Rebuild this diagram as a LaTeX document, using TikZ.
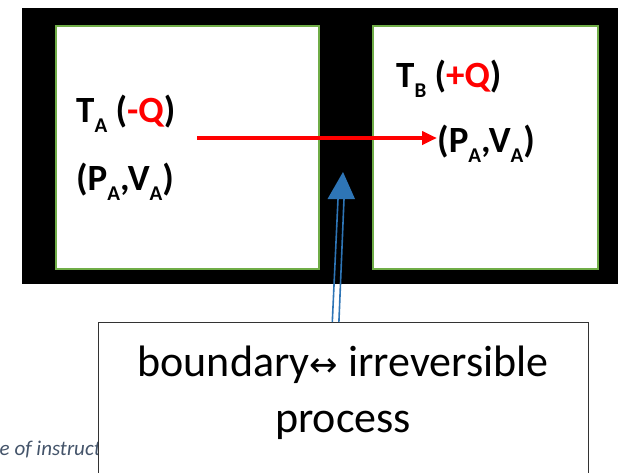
\documentclass[tikz,border=0pt]{standalone}
\usepackage{fontspec}
\setmainfont{Carlito}
\newfontfamily\symfont{DejaVu Sans}
\usetikzlibrary{calc,arrows.meta,positioning}
\definecolor{boxgreen}{HTML}{70AD47}
\definecolor{arrowblue}{HTML}{2E75B6}
\definecolor{notegray}{HTML}{44546A}
\newcommand{\lowsub}[1]{\raisebox{-0.28em}{\fontsize{21}{22}\selectfont #1}}
\begin{document}
\begin{tikzpicture}[x=1pt,y=-1pt,
  chamber/.style={draw=boxgreen,fill=white,line width=1.6pt,anchor=north west,inner sep=0pt},
  state/.style={font=\bfseries\fontsize{37}{42}\selectfont,inner sep=0pt,anchor=base west},
  heatflow/.style={red,line width=4.5pt,-{Triangle[length=15pt,width=13pt]}},
  pointer/.style={arrowblue,line width=1.6pt}]
\useasboundingbox (0,0) rectangle (618,472);
% the two chambers in the black frame
\fill[black] (22,8) rectangle (618,284);
\node[chamber,minimum width=263pt,minimum height=243pt] (left) at (55,25) {};
\node[chamber,minimum width=225pt,minimum height=243pt] (right) at (372,25) {};
\node[state] (ta) at (76,122) {T\lowsub{A} (\textcolor{red}{-Q})};
\node[state] (pa) at (76,190) {(P\lowsub{A},V\lowsub{A})};
\node[state] (tb) at (396,87) {T\lowsub{B} (\textcolor{red}{+Q})};
\node[state] (pb) at (437,152) {(P\lowsub{A},V\lowsub{A})};
\coordinate (qstart) at (197,138);
\draw[heatflow] (qstart) -- (qstart -| pb.west);
% note behind the box
\node[font=\itshape\fontsize{21}{24}\selectfont,text=notegray,anchor=base east,inner sep=0pt] (note) at (101,455) {e of instruct};
\node[draw=black!80,fill=white,line width=1.2pt,minimum width=490pt,minimum height=170pt,anchor=north west,inner sep=0pt] (procbox) at (98,322) {};
\node[font=\fontsize{44}{56}\selectfont,align=center,anchor=north,inner sep=0pt] (proctext) at (343,346) {boundary{\symfont\fontsize{34}{40}\selectfont ↔} irreversible\\process};
% pointer to the wall
\coordinate (ptrfoot) at ($(procbox.north)+(-8,0)$);
\coordinate (ptrhead) at (341,199);
\draw[pointer] ($(ptrfoot)+(-3.3,0)$) -- ($(ptrhead)+(-3,0)$);
\draw[pointer] ($(ptrfoot)+(3.3,0)$) -- ($(ptrhead)+(3,0)$);
\fill[arrowblue] ($(ptrhead)+(-13.5,0)$) -- ($(ptrhead)+(14,0)$) -- (343,172) -- cycle;
\end{tikzpicture}
\end{document}
